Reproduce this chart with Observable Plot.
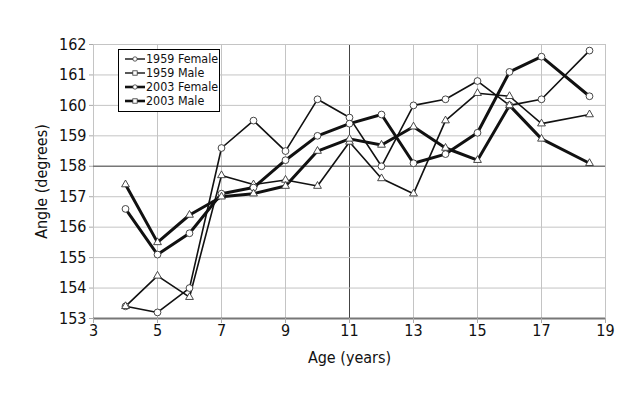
<!DOCTYPE html>
<html>
<head>
<meta charset="utf-8">
<script src="https://cdn.jsdelivr.net/npm/d3@7"></script>
<script src="https://cdn.jsdelivr.net/npm/@observablehq/plot@0.6"></script>
<style>
  html, body { margin: 0; padding: 0; background: #fff; }
  #wrap { position: relative; width: 640px; height: 400px; font-family: "DejaVu Sans Condensed", "DejaVu Sans", sans-serif; font-stretch: condensed; }
  #wrap svg text { font-stretch: condensed; }
  #legend { position: absolute; left: 118px; top: 49px; width: 100px; height: 59px; border: 1px solid #000; background: #fff; padding-top: 2px; box-sizing: content-box; white-space: nowrap; overflow: hidden; }
  #legend .row { display: flex; align-items: center; height: 14px; font-size: 12.4px; color: #111; line-height: 14px; white-space: nowrap; }
  #legend svg { margin-left: 6px; margin-right: 1px; flex: none; }
</style>
</head>
<body>
<div id="wrap"><div id="legend"></div></div>
<script>
// ---- data ----
const ages = [4, 5, 6, 7, 8, 9, 10, 11, 12, 13, 14, 15, 16, 17, 18.5];
const female1959 = [153.4, 153.2, 154.0, 158.6, 159.5, 158.5, 160.2, 159.6, 158.0, 160.0, 160.2, 160.8, 160.0, 160.2, 161.8];
const male1959   = [153.4, 154.4, 153.7, 157.7, 157.4, 157.55, 157.35, 158.8, 157.6, 157.1, 159.5, 160.4, 160.3, 159.4, 159.7];
const female2003 = [156.6, 155.1, 155.8, 157.1, 157.3, 158.2, 159.0, 159.4, 159.7, 158.1, 158.4, 159.1, 161.1, 161.6, 160.3];
const male2003   = [157.4, 155.5, 156.4, 157.0, 157.1, 157.35, 158.5, 158.9, 158.7, 159.3, 158.6, 158.2, 160.0, 158.9, 158.1];
const seriesNames = ["1959 Female", "1959 Male", "2003 Female", "2003 Male"];
const xTicks = [3, 5, 7, 9, 11, 13, 15, 17, 19];
const yTicks = [153, 154, 155, 156, 157, 158, 159, 160, 161, 162];

const seriesValues = [female1959, male1959, female2003, male2003];
const seriesStyle = [
  {width: 1.6, symbol: "circle", r: 3.4},
  {width: 1.6, symbol: "triangle", r: 2.9},
  {width: 3, symbol: "circle", r: 3.4},
  {width: 3, symbol: "triangle", r: 2.9}
];
const rows = seriesNames.flatMap((s, i) => ages.map((a, j) => ({series: s, age: a, value: seriesValues[i][j]})));

const font = '"DejaVu Sans Condensed", "DejaVu Sans", sans-serif';

const lineMarks = seriesNames.map((s, i) =>
  Plot.line(rows.filter(d => d.series === s), {x: "age", y: "value", stroke: "#111", strokeWidth: seriesStyle[i].width})
);
const dotMarks = seriesNames.map((s, i) =>
  Plot.dot(rows.filter(d => d.series === s), {x: "age", y: "value", symbol: seriesStyle[i].symbol, r: seriesStyle[i].r, fill: "#fff", stroke: "#333", strokeWidth: 0.9})
);

const chart = Plot.plot({
  width: 640,
  height: 400,
  marginLeft: 93,
  marginRight: 35,
  marginTop: 44,
  marginBottom: 82,
  style: {fontFamily: font, fontSize: "16px", color: "#111", background: "transparent", fontStretch: "condensed"},
  x: {domain: [3, 19]},
  y: {domain: [153, 162]},
  marks: [
    Plot.gridX(xTicks, {stroke: d => d === 11 ? "#444" : "#c4c4c4", strokeOpacity: 1, strokeWidth: 1}),
    Plot.gridY(yTicks, {stroke: d => d === 158 ? "#777" : "#c4c4c4", strokeOpacity: 1, strokeWidth: d => d === 158 ? 1.5 : 1}),
    Plot.ruleY([153], {stroke: "#777", strokeWidth: 2}),
    Plot.axisX(xTicks, {tickSize: 5, tickPadding: 1, stroke: "#aaa", label: "Age (years)", labelAnchor: "center", labelArrow: "none", labelOffset: 44, fontSize: 16}),
    Plot.axisY(yTicks, {tickSize: 4, tickPadding: 3, stroke: "#aaa", label: "Angle (degrees)", labelAnchor: "center", labelArrow: "none", labelOffset: 58, fontSize: 16}),
    ...lineMarks,
    ...dotMarks
  ]
});
document.getElementById("wrap").prepend(chart);

// ---- legend ----
const legend = document.getElementById("legend");
seriesNames.forEach((s, i) => {
  const row = document.createElement("div");
  row.className = "row";
  const st = seriesStyle[i];
  const sym = st.symbol === "circle"
    ? `<circle cx="10" cy="5" r="2.2" fill="#fff" stroke="#333" stroke-width="0.8"/>`
    : `<rect x="7.8" y="2.8" width="4.4" height="4.4" fill="#fff" stroke="#333" stroke-width="0.8"/>`;
  row.innerHTML = `<svg width="20" height="10"><line x1="0" x2="20" y1="5" y2="5" stroke="#111" stroke-width="${st.width === 3 ? 2.6 : 1.4}"/>${sym}</svg><span>${s}</span>`;
  legend.appendChild(row);
});
</script>
</body>
</html>
